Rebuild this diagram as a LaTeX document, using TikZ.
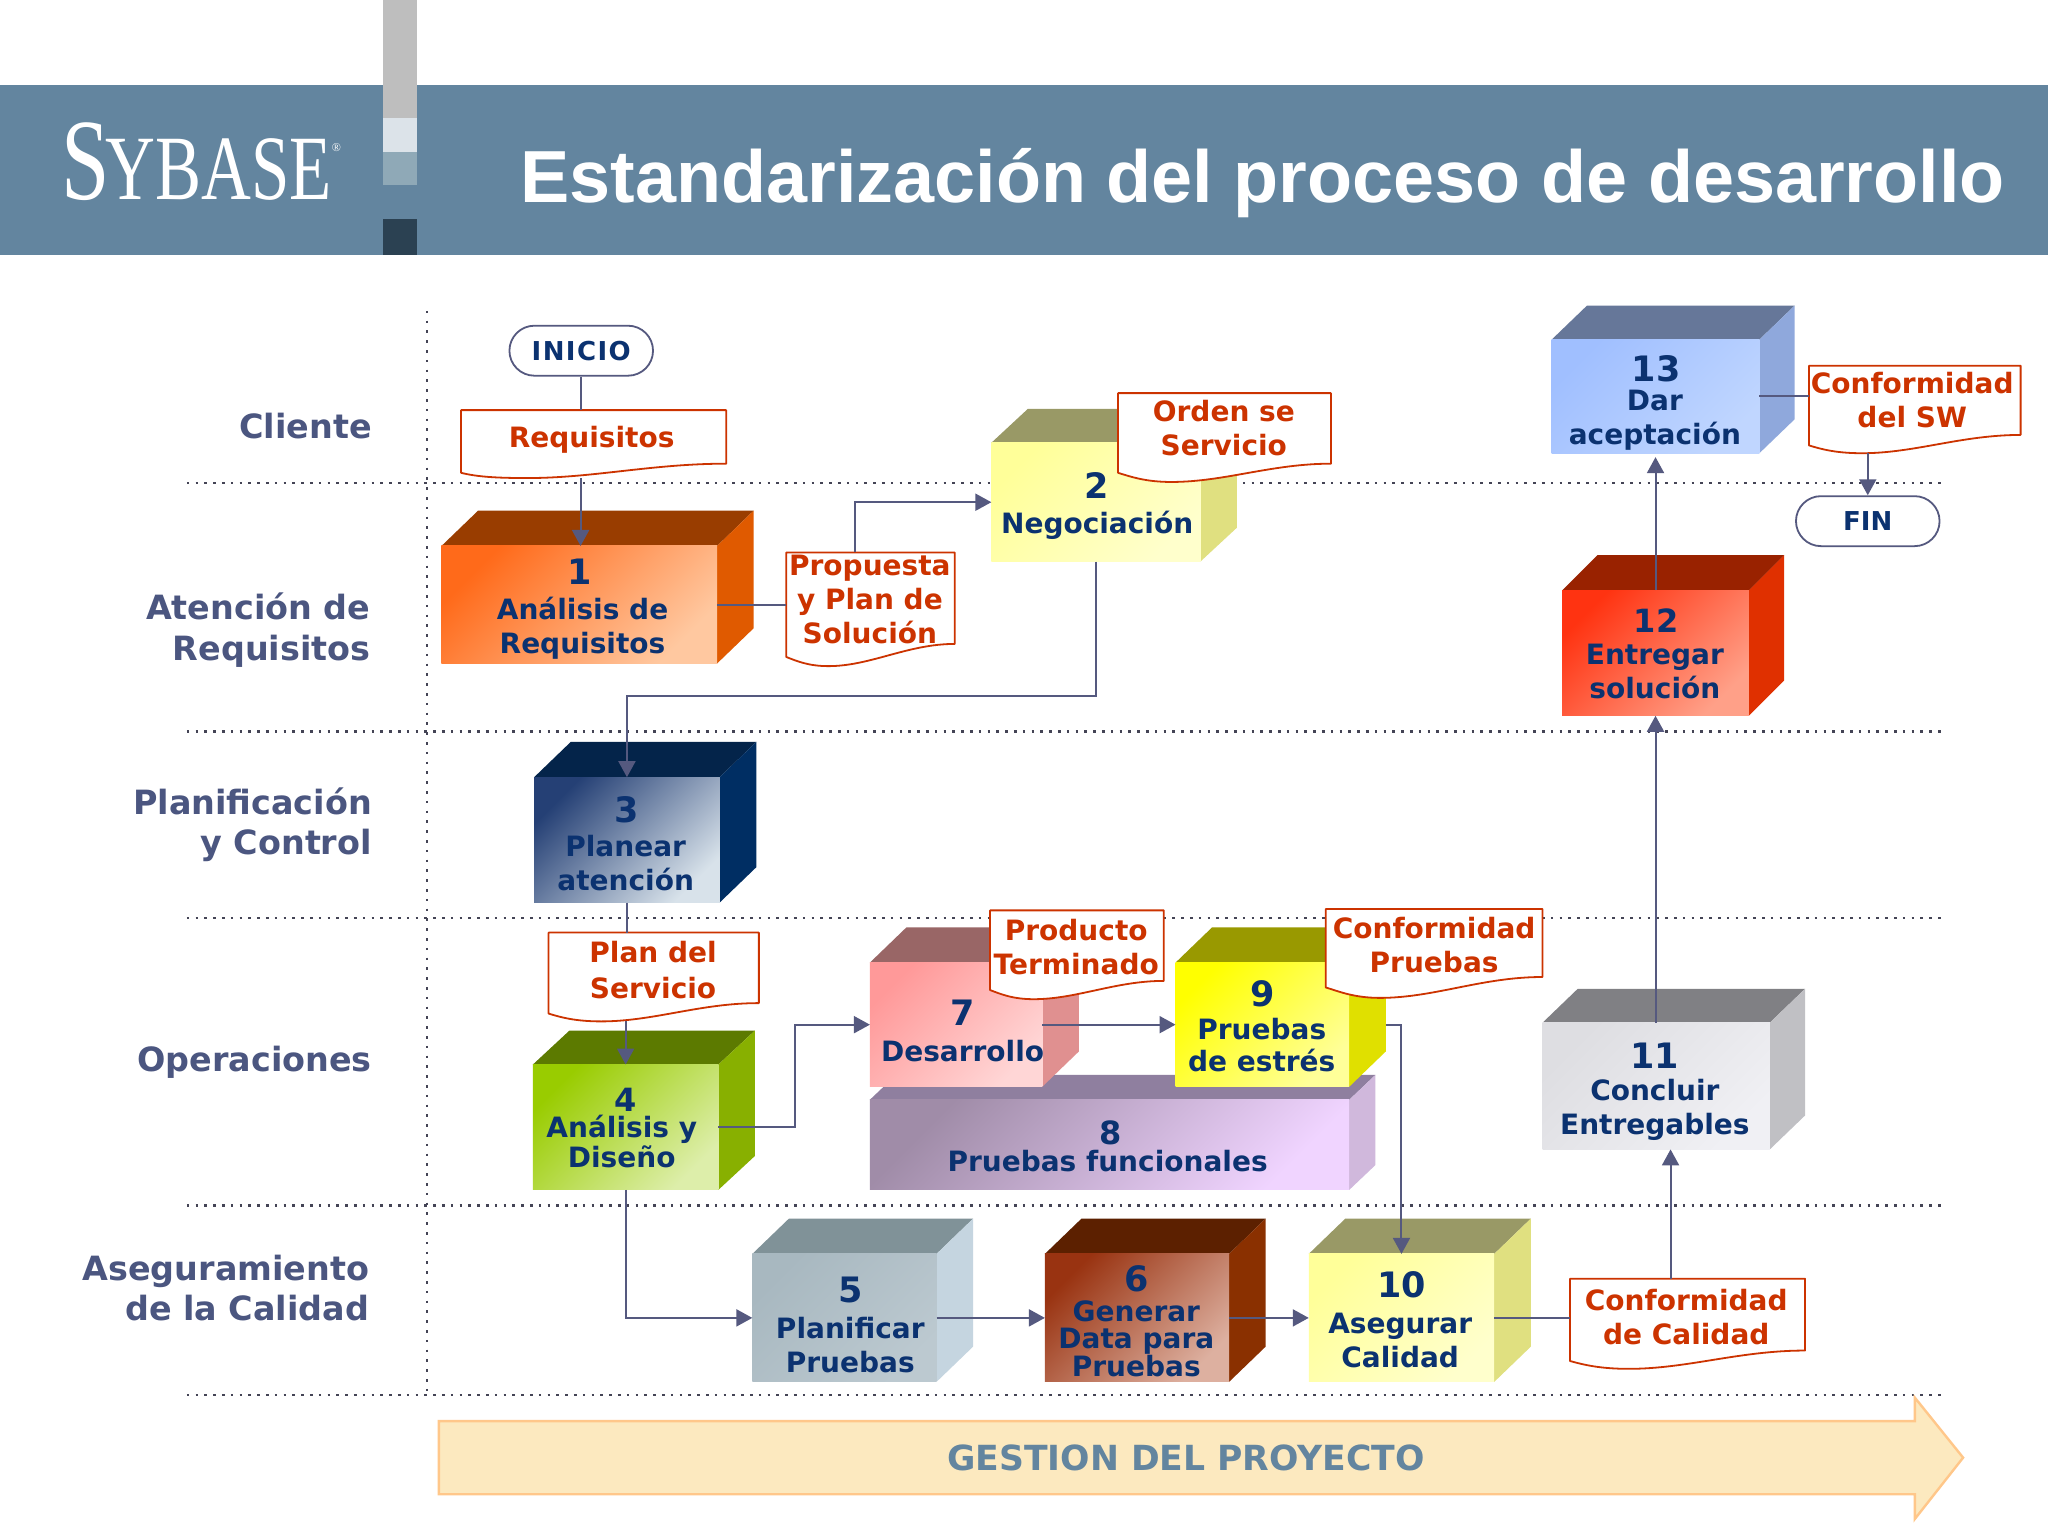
\documentclass[tikz,border=0pt]{standalone}
\usepackage{fontspec}
\setmainfont{DejaVu Sans}
\newfontfamily\titlefont{Liberation Sans}
\newfontfamily\logofont{Liberation Serif}
\usetikzlibrary{arrows.meta,shapes.misc,calc,fit}
\definecolor{band}{HTML}{63859F}
\definecolor{navy}{HTML}{0B3270}
\definecolor{conn}{HTML}{55597F}
\definecolor{lane}{HTML}{4B5680}
\definecolor{docred}{HTML}{CC3300}
\definecolor{dotc}{HTML}{444455}
\definecolor{barA}{HTML}{BEBEBE}
\definecolor{barB}{HTML}{DCE3E9}
\definecolor{barC}{HTML}{8FA9B7}
\definecolor{barD}{HTML}{2B4152}
\definecolor{arrowfill}{HTML}{FCE9BF}
\definecolor{arrowline}{HTML}{FFC78A}
\tikzset{
  facebox/.style={fit={#1},inner sep=0pt,outer sep=0pt},
  cubenum/.style={font=\bfseries\fontsize{#1}{20}\selectfont,text=navy,inner sep=0pt},
  cubenum/.default=17.5,
  cubelabel/.style={font=\bfseries\fontsize{14}{#1}\selectfont,text=navy,align=center,inner sep=0pt},
  cubelabel/.default=17,
  doctext/.style={font=\bfseries\fontsize{14}{#1}\selectfont,text=docred,align=center,inner sep=0pt},
  doctext/.default=17,
  lanelabel/.style={font=\bfseries\fontsize{16.7}{20.3}\selectfont,text=lane,align=right,inner sep=0pt,anchor=east},
  pill/.style={draw=conn,fill=white,line width=0.9pt,rounded rectangle,font=\bfseries\fontsize{13}{15}\selectfont,text=navy,inner sep=0pt,minimum width=71.8pt,minimum height=25pt},
  dotline/.style={draw=dotc,line width=1.2pt,dash pattern=on 1.3pt off 3.1pt},
  dotlinev/.style={draw=dotc,line width=1.2pt,dash pattern=on 1.3pt off 3.6pt},
  link/.style={draw=conn,line width=1pt},
  arrowlink/.style={draw=conn,line width=1pt,-{Triangle[length=8pt,width=8.5pt]}},
}
\newcommand{\cubebox}[9]{%
  \definecolor{ctop}{HTML}{#8}\definecolor{cside}{HTML}{#9}%
  \fill[ctop] (#2,#3) -- (#2+#6,#3-#7) -- (#4+#6,#3-#7) -- (#4,#3) -- cycle;
  \fill[cside] (#4,#3) -- (#4+#6,#3-#7) -- (#4+#6,#5-#7) -- (#4,#5) -- cycle;
  \def\facename{#1}\def\facecorners{(#2,#3)(#4,#5)}%
  \cubefaceshade}
\newcommand{\cubefaceshade}[2]{%
  \definecolor{cfa}{HTML}{#1}\definecolor{cfb}{HTML}{#2}%
  \node[facebox/.expanded={\facecorners},shade,left color=cfa,right color=cfb,shading angle=45] (\facename) {};
}
\newcommand{\docbox}[7]{%
  \draw[draw=docred,fill=white,line width=0.9pt,line join=round]
    (#2,#3) -- (#4,#3) -- (#4,#5)
    .. controls ({#2+0.72*(#4-#2)},#5) and ({#2+0.5*(#4-#2)},#7) .. ({#2+0.25*(#4-#2)},#7)
    .. controls ({#2+0.13*(#4-#2)},#7) and ({#2+0.06*(#4-#2)},#6+3) .. (#2,#6) -- cycle;
  \node[facebox={(#2,#3)(#4,#7)}] (#1) {};
}
\begin{document}
\begin{tikzpicture}[x=0.65306pt,y=-0.65306pt]
\useasboundingbox (0,0) rectangle (1568,1176);
\fill[white] (0,0) rectangle (1568,1176);
% header
\fill[band] (0,65) rectangle (1568,195);
\fill[barA] (293,0) rectangle (319,90);
\fill[barB] (293,90) rectangle (319,116);
\fill[barC] (293,116) rectangle (319,142);
\fill[barD] (293,168) rectangle (319,195);
\node[anchor=base west,text=white,inner sep=0pt] (logo) at (47,153)
  {\logofont\scalebox{0.75}[1]{{\fontsize{58}{58}\selectfont S}\kern-3pt{\fontsize{46}{46}\selectfont YBASE}}\raisebox{24pt}{\fontsize{6}{6}\selectfont ®}};
\node[anchor=base west,text=white,inner sep=0pt,font=\titlefont\bfseries\fontsize{36.9}{39}\selectfont] (title) at (398,155)
  {Estandarización del proceso de desarrollo};
% dotted lanes
\draw[dotline] (143,370) coordinate (l1a) -- (1490,370) coordinate (l1b);
\draw[dotline] (143,560) coordinate (l2a) -- (1490,560) coordinate (l2b);
\draw[dotline] (143,703) coordinate (l3a) -- (1490,703) coordinate (l3b);
\draw[dotline] (143,923) coordinate (l4a) -- (1490,923) coordinate (l4b);
\draw[dotline] (143,1068) coordinate (l5a) -- (1490,1068) coordinate (l5b);
\draw[dotlinev] (327,238) coordinate (v1) -- (327,1065) coordinate (v2);
% lane labels
\node[lanelabel] (lanecli) at (285,326) {Cliente};
\node[lanelabel] (laneate) at (284,482.5) {Atención de\\Requisitos};
\node[lanelabel] (lanepla) at (285,631.5) {Planificación\\y Control};
\node[lanelabel] (laneope) at (285,813) {Operaciones};
\node[lanelabel] (laneseg) at (283,986) {Aseguramiento\\de la Calidad};
% cubes
\cubebox{c8}{666}{842}{1033}{911}{20}{19}{8F7F9F}{D0B8DC}{A08CA8}{F0D4FF}
\cubebox{c1}{338}{418}{549}{508}{28}{27}{993D00}{E05A00}{FF6A1A}{FFC8A0}
\cubebox{c2}{759}{339}{919}{430}{28}{26}{999966}{E0E080}{FFFF99}{FFFFCC}
\cubebox{c3}{409}{595}{551}{691}{28}{27}{04244A}{002E63}{254075}{D8E2EA}
\cubebox{c4}{408}{815}{550}{911}{28}{26}{5C7A00}{88B000}{99CC00}{DDEEAA}
\cubebox{c5}{576}{960}{717}{1058}{28}{27}{809298}{C5D5E0}{A8B8C0}{BCC9D0}
\cubebox{c6}{800}{960}{941}{1058}{28}{27}{5C2000}{8A3000}{993311}{DDB0A0}
\cubebox{c7}{666}{737}{798}{832}{28}{27}{996666}{E09090}{FF9999}{FFD6D6}
\cubebox{c9}{900}{737}{1033}{832}{28}{27}{999900}{E0E000}{FFFF00}{FFFF99}
\cubebox{c10}{1002}{960}{1144}{1058}{28}{27}{999966}{E0E080}{FFFF99}{FFFFCC}
\cubebox{c11}{1181}{783}{1355}{880}{27}{26}{808084}{C0C0C4}{DEDEE2}{F0F0F4}
\cubebox{c12}{1196}{452}{1339}{548}{27}{27}{992200}{E03000}{FF3311}{FFA088}
\cubebox{c13}{1188}{260}{1347}{347}{27}{26}{667799}{8FA8DC}{A0BFFF}{C0D6FF}
% cube texts
\node[cubenum] (n1) at (444,438) {1};
\node[cubelabel] (t1) at (446,481) {Análisis de\\Requisitos};
\node[cubenum] (n2) at (840,372) {2};
\node[cubelabel] (t2) at (840,402.5) {Negociación};
\node[cubenum] (n3) at (480,620) {3};
\node[cubelabel] (t3) at (479,661) {Planear\\atención};
\node[cubenum=16] (n4) at (479,842) {4};
\node[cubelabel=13.7] (t4) at (476,874) {Análisis y\\Diseño};
\node[cubenum] (n5) at (651,988) {5};
\node[cubelabel] (t5) at (651,1030) {Planificar\\Pruebas};
\node[cubenum] (n6) at (870,979) {6};
\node[cubelabel=13.7] (t6) at (870,1025) {Generar\\Data para\\Pruebas};
\node[cubenum] (n7) at (737,775) {7};
\node[cubelabel] (t7) at (737,805) {Desarrollo};
\node[cubenum=16] (n8) at (850,867) {8};
\node[cubelabel] (t8) at (848,889) {Pruebas funcionales};
\node[cubenum] (n9) at (967,761) {9};
\node[cubelabel=15.7] (t9) at (966,800) {Pruebas\\de estrés};
\node[cubenum] (n10) at (1073,984) {10};
\node[cubelabel] (t10) at (1072,1026) {Asegurar\\Calidad};
\node[cubenum] (n11) at (1267,808) {11};
\node[cubelabel] (t11) at (1267,850) {Concluir\\Entregables};
\node[cubenum=16] (n12) at (1268,475) {12};
\node[cubelabel] (t12) at (1267,514) {Entregar\\solución};
\node[cubenum] (n13) at (1268,282) {13};
\node[cubelabel] (t13) at (1267,322) {Dar\\aceptación};
% documents
\docbox{dReq}{353}{314}{556}{355}{362}{366}
\node[doctext] (tReq) at (453,337) {Requisitos};
\docbox{dOrd}{856}{301}{1019}{355}{362}{369}
\node[doctext] (tOrd) at (937,328) {Orden se\\Servicio};
\docbox{dPro}{602}{423}{731}{493}{503}{510}
\node[doctext] (tPro) at (666,459) {Propuesta\\y Plan de\\Solución};
\docbox{dPla}{420}{714}{581}{768}{776}{782}
\node[doctext=18] (tPla) at (500,743) {Plan del\\Servicio};
\docbox{dPrd}{758}{697}{891}{751}{758}{765}
\node[doctext] (tPrd) at (824,725) {Producto\\Terminado};
\docbox{dPru}{1015}{696}{1181}{748}{756}{764}
\node[doctext] (tPru) at (1098,723.5) {Conformidad\\Pruebas};
\docbox{dCal}{1202}{979}{1382}{1034}{1042}{1048}
\node[doctext] (tCal) at (1291,1008) {Conformidad\\de Calidad};
\docbox{dSW}{1385}{280}{1547}{333}{341}{347}
\node[doctext] (tSW) at (1464,306.5) {Conformidad\\del SW};
% terminators
\node[pill] (inicio) at (445,268.5) {\addfontfeatures{LetterSpace=5.5}INICIO};
\node[pill] (fin) at (1430,399) {FIN};
% connectors
\coordinate (c9s) at (1061,784.5);
\draw[link] (inicio.south) -- (inicio.south |- dReq.north);
\draw[arrowlink] (c1.north |- dReq.south) ++(1,0) -- ($(c1.north)+(1,0)$);
\draw[link] (c1.east) -- (c1.east -| dPro.west);
\draw[arrowlink] ($(dPro.north)+(-12,0)$) |- (c2.west);
\draw[arrowlink] (c2.south) -- ++(0,103) -| (c3.north);
\draw[link] (c3.south) -- (c3.south |- dPla.north);
\draw[arrowlink] (c4.north |- dPla.south) -- (c4.north);
\draw[arrowlink] (c4.east) -- ++(59,0) |- (c7.west);
\draw[arrowlink] (c7.east) -- (c9.west);
\draw[arrowlink] (c9s) -| (c10.north);
\draw[arrowlink] (c4.south) |- (c5.west);
\draw[arrowlink] (c5.east) -- (c6.west);
\draw[arrowlink] (c6.east) -- (c10.west);
\draw[link] (c10.east) -- (c10.east -| dCal.west);
\draw[arrowlink] ($(dCal.north)+(-13,0)$) -- ($(c11.south -| dCal.north)+(-13,0)$);
\draw[arrowlink] (c12.south |- c11.north) -- (c12.south);
\draw[arrowlink] (c12.north) -- ($(c13.south)+(0,3)$);
\draw[link] (c13.east) -- (c13.east -| dSW.west);
\draw[arrowlink] (fin.north |- dSW.south) -- (fin.north);
% management arrow
\draw[draw=arrowline,fill=arrowfill,line width=1.2pt,line join=miter]
  (336,1088) -- (1466,1088) -- (1466,1070) -- (1503,1116) -- (1466,1163) -- (1466,1144) -- (336,1144) -- cycle;
\node[inner sep=0pt,font=\bfseries\fontsize{17.3}{20}\selectfont,text=band] (gestion) at (908,1116) {GESTION DEL PROYECTO};
\end{tikzpicture}
\end{document}
